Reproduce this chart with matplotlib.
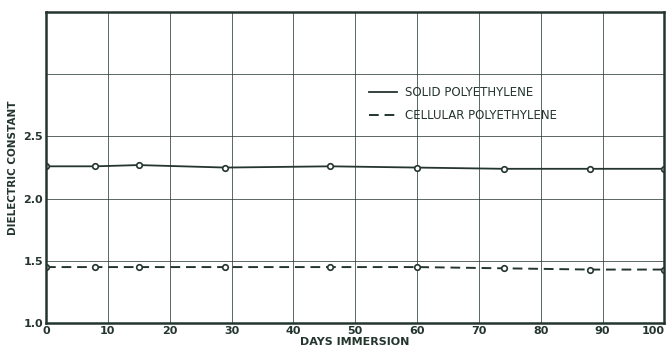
import numpy as np
from matplotlib import pyplot as plt

# data
days = [0, 8, 15, 29, 46, 60, 74, 88, 100]
solid = [2.26, 2.26, 2.27, 2.25, 2.26, 2.25, 2.24, 2.24, 2.24]
cellular = [1.45, 1.45, 1.45, 1.45, 1.45, 1.45, 1.44, 1.43, 1.43]

ink = '#24352e'

fig = plt.figure(figsize=(6.67, 3.55), dpi=100)
ax = fig.add_axes([0.069, 0.090, 0.927, 0.876])

ax.plot(days, solid, '-', color=ink, linewidth=1.3, marker='o', markersize=4,
        markerfacecolor='white', markeredgewidth=1.2, label='SOLID POLYETHYLENE')
ax.plot(days, cellular, '--', color=ink, linewidth=1.4, dashes=(5, 3), marker='o',
        markersize=4, markerfacecolor='white', markeredgewidth=1.2,
        label='CELLULAR POLYETHYLENE')

ax.set_xlim(0, 100)
ax.set_ylim(1.0, 3.5)
ax.set_xticks(np.arange(0, 101, 10))
ax.set_yticks([1.0, 1.5, 2.0, 2.5, 3.0, 3.5])
ax.set_yticklabels(['1.0', '1.5', '2.0', '2.5', '', ''])
ax.tick_params(length=0, labelsize=8, colors=ink, pad=2)
for lab in ax.get_xticklabels() + ax.get_yticklabels():
    lab.set_fontweight('bold')
ax.get_xticklabels()[-1].set_horizontalalignment('right')
ax.grid(True, color=ink, linewidth=0.7, alpha=0.75)
for s in ax.spines.values():
    s.set_color(ink)
    s.set_linewidth(1.8)

ax.set_xlabel('DAYS IMMERSION', fontsize=8, fontweight='bold', color=ink, labelpad=1)
ax.set_ylabel('DIELECTRIC CONSTANT', fontsize=7.5, fontweight='bold', color=ink, labelpad=4)

leg = ax.legend(loc='upper left', bbox_to_anchor=(0.505, 0.795), frameon=False,
                fontsize=8.5, handlelength=2.4, labelspacing=0.85, handletextpad=0.7)
for t in leg.get_texts():
    t.set_color(ink)
for h in leg.legend_handles:
    h.set_marker('')

plt.savefig('out.png', dpi=100)
